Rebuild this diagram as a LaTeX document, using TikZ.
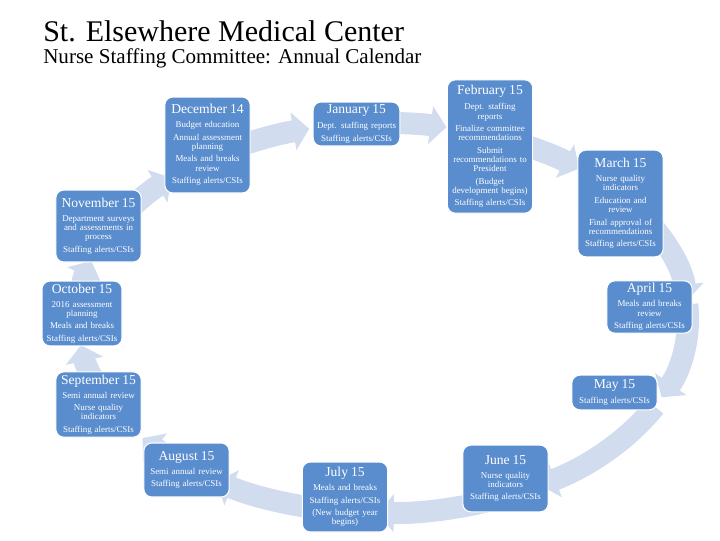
\documentclass[tikz,border=0pt]{standalone}
\usepackage{fontspec}
\setmainfont{Liberation Serif}
\usetikzlibrary{arrows.meta,calc}
\definecolor{boxblue}{HTML}{5A8DCE}
\definecolor{ringblue}{HTML}{D1DCEE}
\tikzset{
  mbox/.style={draw=white, line width=0.8pt, fill=boxblue, rounded corners=6pt, text=white, align=center, text width=58pt, inner xsep=3pt, inner ysep=2pt, font=\fontsize{6.7}{6.9}\selectfont},
  ringarrow/.style={draw=ringblue, line width=16.5pt, -{Triangle[width=28pt,length=12pt]}},
  titletext/.style={anchor=base west, inner sep=0pt, font=\fontsize{22.5}{24}\selectfont},
  subtext/.style={anchor=base west, inner sep=0pt, font=\fontsize{15.8}{17}\selectfont}
}
\newcommand{\mtitle}[1]{{\fontsize{10.2}{12}\selectfont #1}\\[3.5pt]}

\begin{document}
\begin{tikzpicture}[x=0.75pt,y=-0.75pt]
\useasboundingbox (0,0) rectangle (720,540);
\node[titletext] (title) at (43,41) {St. Elsewhere Medical Center};
\node[subtext] (subtitle) at (43,63) {Nurse Staffing Committee: Annual Calendar};

% ring of arrows round the year
\coordinate (ctr) at (383,318);
\foreach \ta/\tb in {154/134, 123/104, 95/78, 68/50, 37/5, 4/-24, -27/-59, -64/-91, -98/-123, -130/-142, -155/-172, -181/-197}
  \draw[ringarrow] ($(ctr)+({-1*(\ta)}:305 and 195)$) arc[start angle={-1*(\ta)}, end angle={-1*(\tb)}, x radius=305, y radius=195];

% months
\node[mbox, minimum height=72pt] (dec) at (207.5,145) {\mtitle{December 14}Budget education\\[2.5pt] Annual assessment\\ planning\\[2.5pt] Meals and breaks\\ review\\[2.5pt] Staffing alerts/CSIs};
\node[mbox, minimum height=31.5pt, text width=62pt, inner xsep=1.5pt] (jan) at (356.5,124) {\mtitle{January 15}Dept. staffing reports\\[2.5pt] Staffing alerts/CSIs};
\node[mbox, minimum height=100pt] (feb) at (490,146.5) {\mtitle{February 15}Dept. staffing\\ reports\\[2.5pt] Finalize committee\\ recommendations\\[2.5pt] Submit\\ recommendations to\\ President\\[2.5pt] (Budget\\ development begins)\\[2.5pt] Staffing alerts/CSIs};
\node[mbox, minimum height=80pt] (mar) at (620.5,203.5) {\mtitle{March 15}Nurse quality\\ indicators\\[2.5pt] Education and\\ review\\[2.5pt] Final approval of\\ recommendations\\[2.5pt] Staffing alerts/CSIs};
\node[mbox, minimum height=36pt] (apr) at (649.5,307) {\mtitle{April 15}Meals and breaks\\ review\\[2.5pt] Staffing alerts/CSIs};
\node[mbox, minimum height=26pt] (may) at (614.5,392.5) {\mtitle{May 15}Staffing alerts/CSIs};
\node[mbox, minimum height=50pt] (jun) at (505.5,478.5) {\mtitle{June 15}Nurse quality\\ indicators\\[2.5pt] Staffing alerts/CSIs};
\node[mbox, minimum height=52.5pt] (jul) at (345,497) {\mtitle{July 15}Meals and breaks\\[2.5pt] Staffing alerts/CSIs\\[2.5pt] (New budget year\\ begins)};
\node[mbox, minimum height=40.5pt] (aug) at (186.5,470) {\mtitle{August 15}Semi annual review\\[2.5pt] Staffing alerts/CSIs};
\node[mbox, minimum height=49pt] (sep) at (98.5,404.5) {\mtitle{September 15}Semi annual review\\[2.5pt] Nurse quality\\ indicators\\[2.5pt] Staffing alerts/CSIs};
\node[mbox, minimum height=47pt, text width=54pt] (oct) at (82,313.5) {\mtitle{October 15}2016 assessment\\ planning\\[2.5pt] Meals and breaks\\[2.5pt] Staffing alerts/CSIs};
\node[mbox, minimum height=54pt] (nov) at (98.5,226) {\mtitle{November 15}Department surveys\\ and assessments in\\ process\\[2.5pt] Staffing alerts/CSIs};
\end{tikzpicture}
\end{document}
